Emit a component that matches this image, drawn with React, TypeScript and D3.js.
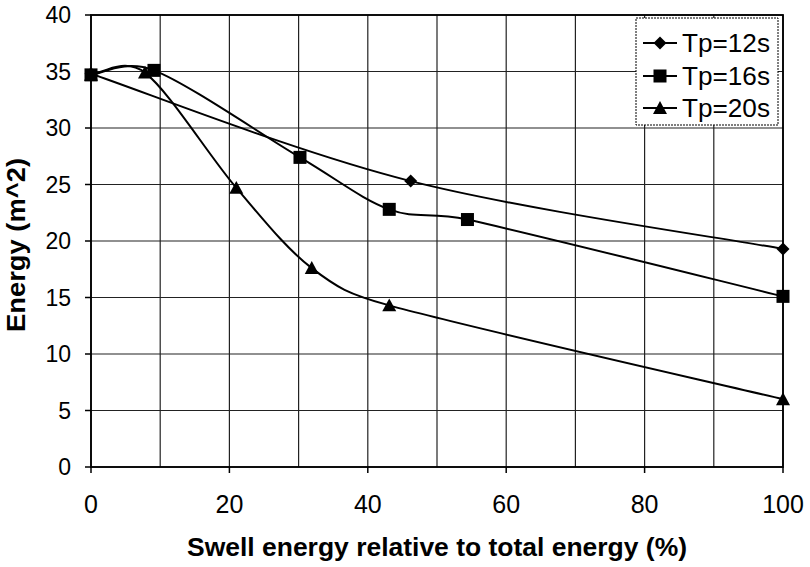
import React from "react";
import * as d3 from "d3";

const xTicks = [0, 20, 40, 60, 80, 100];
const xGrid = [0, 10, 20, 30, 40, 50, 60, 70, 80, 90, 100];
const yTicks = [0, 5, 10, 15, 20, 25, 30, 35, 40];

const tp12X = [0, 46.2, 100];
const tp12Y = [34.8, 25.3, 19.3];
const tp16X = [0, 9.1, 30.2, 43.1, 54.4, 100];
const tp16Y = [34.7, 35.1, 27.4, 22.8, 21.9, 15.1];
const tp20X = [0, 7.8, 21.0, 31.9, 43.1, 100];
const tp20Y = [34.7, 34.9, 24.7, 17.6, 14.3, 6.0];

const seriesNames = ["Tp=12s", "Tp=16s", "Tp=20s"];
const markerTypes = ["diamond", "square", "triangle"];

const W = 810, H = 567;
const L = 91, R = 783, T = 15, B = 467;
const FONT = "'Liberation Sans', Arial, Helvetica, sans-serif";

// Spreadsheet-style smoothed line: cubic Bezier with Catmull-Rom tangents,
// tangent length limited relative to the segment length.
function smoothCurve(context: any) {
  let pts: [number, number][] = [];
  const lim = (v: [number, number], maxLen: number): [number, number] => {
    const len = Math.hypot(v[0], v[1]);
    if (len > maxLen && len > 0) return [(v[0] * maxLen) / len, (v[1] * maxLen) / len];
    return v;
  };
  return {
    areaStart() {},
    areaEnd() {},
    lineStart() {
      pts = [];
    },
    point(x: number, y: number) {
      pts.push([+x, +y]);
    },
    lineEnd() {
      const n = pts.length;
      if (!n) return;
      context.moveTo(pts[0][0], pts[0][1]);
      for (let i = 0; i < n - 1; i++) {
        const p0 = pts[Math.max(i - 1, 0)];
        const p1 = pts[i];
        const p2 = pts[i + 1];
        const p3 = pts[Math.min(i + 2, n - 1)];
        const seg = Math.hypot(p2[0] - p1[0], p2[1] - p1[1]);
        const t1 = lim([(p2[0] - p0[0]) / 6, (p2[1] - p0[1]) / 6], seg * 0.5);
        const t2 = lim([(p3[0] - p1[0]) / 6, (p3[1] - p1[1]) / 6], seg * 0.5);
        context.bezierCurveTo(p1[0] + t1[0], p1[1] + t1[1], p2[0] - t2[0], p2[1] - t2[1], p2[0], p2[1]);
      }
    },
  };
}

function Marker({ type, x, y }: { type: string; x: number; y: number }) {
  if (type === "diamond") {
    const s = 6.5;
    return <path d={`M${x},${y - s}L${x + s},${y}L${x},${y + s}L${x - s},${y}Z`} fill="#000" />;
  }
  if (type === "square") {
    const s = 6.5;
    return <rect x={x - s} y={y - s} width={2 * s} height={2 * s} fill="#000" />;
  }
  const s = 7;
  return <path d={`M${x},${y - s}L${x + s},${y + s * 0.85}L${x - s},${y + s * 0.85}Z`} fill="#000" />;
}

export default function App() {
  const x = d3.scaleLinear().domain([0, 100]).range([L, R]);
  const y = d3.scaleLinear().domain([0, 40]).range([B, T]);
  const line = d3
    .line<[number, number]>()
    .x((d) => x(d[0]))
    .y((d) => y(d[1]))
    .curve(smoothCurve as any);

  const series = [
    { xs: tp12X, ys: tp12Y },
    { xs: tp16X, ys: tp16Y },
    { xs: tp20X, ys: tp20Y },
  ].map((s, i) => ({
    name: seriesNames[i],
    marker: markerTypes[i],
    pts: s.xs.map((v, j) => [v, s.ys[j]] as [number, number]),
  }));

  const legX = 636, legY = 18, legW = 142, legH = 107;
  const rowYs = [43, 76, 108];

  return (
    <svg
      width={W}
      height={H}
      style={{ position: "absolute", left: 0, top: 0, background: "#fff" }}
      fontFamily={FONT}
    >
      {yTicks.map((t) => (
        <line key={"gy" + t} x1={L} x2={R} y1={y(t)} y2={y(t)} stroke="#222" strokeWidth={1.2} />
      ))}
      {xGrid.map((t) => (
        <line key={"gx" + t} x1={x(t)} x2={x(t)} y1={T} y2={B} stroke="#222" strokeWidth={1.2} />
      ))}
      <rect x={L} y={T} width={R - L} height={B - T} fill="none" stroke="#000" strokeWidth={1.8} />
      {yTicks.map((t) => (
        <g key={"yt" + t}>
          <line x1={L - 6} x2={L} y1={y(t)} y2={y(t)} stroke="#000" strokeWidth={1.5} />
          <text x={71} y={y(t)} dy="0.36em" textAnchor="end" fontSize={23} fill="#000">
            {t}
          </text>
        </g>
      ))}
      {xTicks.map((t) => (
        <g key={"xt" + t}>
          <line x1={x(t)} x2={x(t)} y1={B} y2={B + 6} stroke="#000" strokeWidth={1.5} />
          <text x={x(t)} y={513} textAnchor="middle" fontSize={25} fill="#000">
            {t}
          </text>
        </g>
      ))}
      {series.map((s) => (
        <path key={"l" + s.name} d={line(s.pts) || ""} fill="none" stroke="#000" strokeWidth={2} />
      ))}
      {series
        .slice()
        .reverse()
        .map((s) =>
          s.pts.map((p, j) => <Marker key={s.name + j} type={s.marker} x={x(p[0])} y={y(p[1])} />)
        )}
      <rect x={legX} y={legY} width={legW} height={legH} fill="#fff" stroke="#000" strokeWidth={1} strokeDasharray="2,1" />
      {series.map((s, i) => (
        <g key={"lg" + s.name}>
          <line x1={643} x2={677} y1={rowYs[i]} y2={rowYs[i]} stroke="#000" strokeWidth={2} />
          <Marker type={s.marker} x={660} y={rowYs[i]} />
          <text x={682} y={rowYs[i]} dy="0.36em" fontSize={26} fill="#000" textLength={88} lengthAdjust="spacingAndGlyphs">
            {s.name}
          </text>
        </g>
      ))}
      <text
        x={437}
        y={556}
        textAnchor="middle"
        fontSize={25}
        fontWeight="bold"
        fill="#000"
        textLength={500}
        lengthAdjust="spacingAndGlyphs"
      >
        Swell energy relative to total energy (%)
      </text>
      <text
        transform={`translate(25,245) rotate(-90)`}
        textAnchor="middle"
        fontSize={25}
        fontWeight="bold"
        fill="#000"
        textLength={174}
        lengthAdjust="spacingAndGlyphs"
      >
        Energy (m^2)
      </text>
    </svg>
  );
}
